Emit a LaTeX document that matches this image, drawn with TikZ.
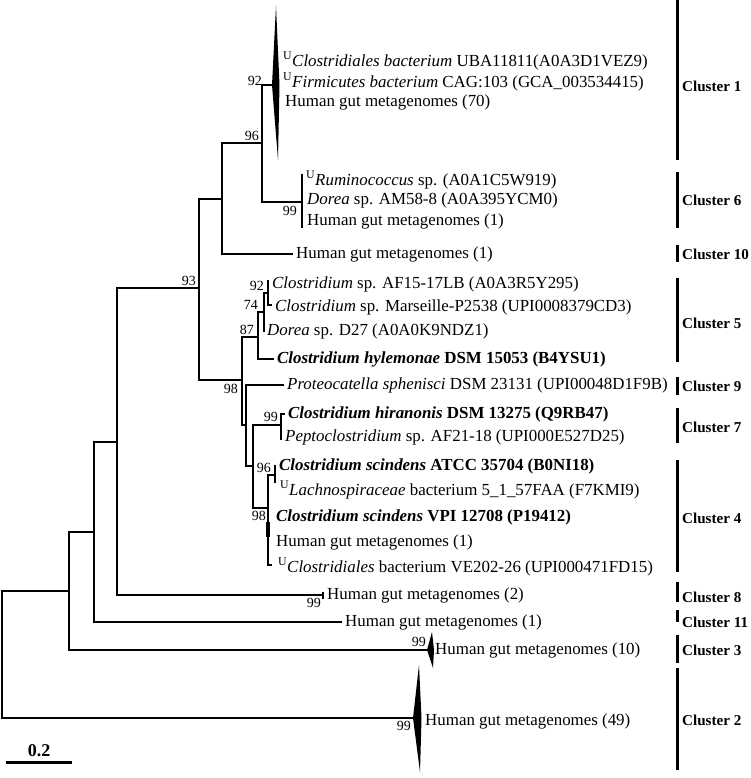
\documentclass[tikz,border=0pt]{standalone}
\usepackage{fontspec}
\setmainfont{Liberation Serif}
\newcommand{\leaffont}{\fontsize{16.9}{18}\selectfont}
\newcommand{\bsfont}{\fontsize{14}{15}\selectfont}
\newcommand{\clfont}{\fontsize{15.1}{16}\selectfont\bfseries}
\newcommand{\Usup}{\textsuperscript{U}}
\begin{document}
\begin{tikzpicture}[x=1pt,y=-1pt,
  br/.style={line width=2.8pt},
  wedge/.style={fill=black},
  leaf/.style={anchor=west, inner xsep=3pt, inner ysep=0pt, font=\leaffont},
  bs/.style={font=\bsfont, inner sep=1pt},
  clbar/.style={line width=3pt},
  cl/.style={anchor=west, font=\clfont, inner sep=0pt}]
\useasboundingbox (0,0) rectangle (750,778);

% internal nodes
\coordinate (r) at (2,654);
\coordinate (n69) at (69,591);
\coordinate (n94) at (94,532);
\coordinate (n117) at (117,442);
\coordinate (n199) at (199,288);
\coordinate (n222) at (222,199);
\coordinate (n262) at (262,143);
\coordinate (n302) at (302,202);
\coordinate (n242) at (242,380);
\coordinate (n258) at (258,337);
\coordinate (n264) at (264,312);
\coordinate (n268) at (268,293);
\coordinate (n246) at (246,425);
\coordinate (n253) at (253,466);
\coordinate (n281) at (281,425);
\coordinate (n268b) at (268,508);
\coordinate (n275) at (275,475);
% wedge apices
\coordinate (w1) at (272,85);
\coordinate (w3) at (427,650);
\coordinate (w2) at (413,718);
% auxiliary tips
\coordinate (c6a) at (302,174);
\coordinate (c6b) at (302,228);
\coordinate (d27) at (264,332);
\coordinate (c5a) at (268,280);
\coordinate (c5b) at (272,305);
\coordinate (c7b) at (281,440);
\coordinate (c96b) at (275,483);
\coordinate (c4b) at (272,565);
\coordinate (c4t1) at (268,522);
\coordinate (c4t2) at (268,537);

% leaves
\node[leaf] (l1a) at (280,61) {\Usup\textit{Clostridiales bacterium} UBA11811(A0A3D1VEZ9)};
\node[leaf] (l1b) at (280,82) {\Usup\textit{Firmicutes bacterium} CAG:103 (GCA\_003534415)};
\node[leaf] (l1c) at (282,102) {Human gut metagenomes (70)};
\node[leaf] (l6a) at (303,180) {\Usup\textit{Ruminococcus} sp. (A0A1C5W919)};
\node[leaf] (l6b) at (304,200) {\textit{Dorea} sp. AM58-8 (A0A395YCM0)};
\node[leaf] (l6c) at (304,221) {Human gut metagenomes (1)};
\node[leaf] (l10) at (293,254) {Human gut metagenomes (1)};
\node[leaf] (l5a) at (269,284) {\textit{Clostridium} sp. AF15-17LB (A0A3R5Y295)};
\node[leaf] (l5b) at (272,307) {\textit{Clostridium} sp. Marseille-P2538 (UPI0008379CD3)};
\node[leaf] (l5c) at (264,331) {\textit{Dorea} sp. D27 (A0A0K9NDZ1)};
\node[leaf] (l5d) at (274,359) {\textbf{\textit{Clostridium hylemonae} DSM 15053 (B4YSU1)}};
\node[leaf] (l9) at (284,385) {\textit{Proteocatella sphenisci} DSM 23131 (UPI00048D1F9B)};
\node[leaf] (l7a) at (285,414) {\textbf{\textit{Clostridium hiranonis} DSM 13275 (Q9RB47)}};
\node[leaf] (l7b) at (282,437) {\textit{Peptoclostridium} sp. AF21-18 (UPI000E527D25)};
\node[leaf] (l4a) at (276,466) {\textbf{\textit{Clostridium scindens} ATCC 35704 (B0NI18)}};
\node[leaf] (l4b) at (277,490) {\Usup\textit{Lachnospiraceae} bacterium 5\_1\_57FAA (F7KMI9)};
\node[leaf] (l4c) at (273,517) {\textbf{\textit{Clostridium scindens} VPI 12708 (P19412)}};
\node[leaf] (l4d) at (273,542) {Human gut metagenomes (1)};
\node[leaf] (l4e) at (275,567) {\Usup\textit{Clostridiales} bacterium VE202-26 (UPI000471FD15)};
\node[leaf, inner xsep=4pt] (l8) at (323,595) {Human gut metagenomes (2)};
\node[leaf] (l11) at (342,622) {Human gut metagenomes (1)};
\node[leaf] (l3) at (432,650) {Human gut metagenomes (10)};
\node[leaf] (l2) at (422,721) {Human gut metagenomes (49)};

% branches
\draw[br] (r) |- (n69);
\draw[br] (r) |- (w2);
\draw[br] (n69) |- (n94);
\draw[br] (n69) |- (w3);
\draw[br] (n94) |- (n117);
\draw[br] (n94) |- (l11.west);
\draw[br] (n117) |- (n199);
\draw[br] (n117) |- (l8.west);
\draw[line width=2pt] ([yshift=3.5pt]l8.west) -- ([yshift=-3.5pt]l8.west);
\draw[br] (n199) |- (n222);
\draw[br] (n199) |- (n242);
\draw[br] (n222) |- (n262);
\draw[br] (n222) |- (l10.west);
\draw[br] (n262) |- (w1);
\draw[br] (n262) |- (n302);
\draw[br] (c6a) -- (c6b);
\draw[br] (n242) |- (n258);
\draw[br] (n242) |- (n246);
\draw[br] (n258) |- (n264);
\draw[br] (n258) |- (l5d.west);
\draw[br] (n264) |- (n268);
\draw[br] (n264) |- (d27);
\draw[br] (n268) |- (c5a);
\draw[br] (n268) |- (c5b);
\draw[br] (n246) |- (l9.west);
\draw[br] (n246) |- (n253);
\draw[br] (n253) |- (n281);
\draw[br] (n253) |- (n268b);
\draw[br] (n281) |- (l7a.west);
\draw[br] (n281) |- (c7b);
\draw[br] (n268b) |- (n275);
\draw[br] (n268b) |- (c4b);
\draw[line width=4.8pt] (c4t1) -- (c4t2);
\draw[br] (n275) |- (l4a.west);
\draw[br] (n275) |- (c96b);

% collapsed clusters
\fill[wedge] (w1) -- (276,6) -- (279.5,85) -- (278,160) -- cycle;
\fill[wedge] (w3) -- (432,632) -- (434,650) -- (433,668) -- cycle;
\fill[wedge] (w2) -- (419,665) -- (421.5,718) -- (420,772) -- cycle;

% bootstrap values
\node[bs, anchor=east] (b92a) at (263,81) {92};
\node[bs, anchor=south east] (b96a) at (260,142) {96};
\node[bs, anchor=north east] (b99a) at (298,205) {99};
\node[bs, anchor=south east] (b93) at (197,287) {93};
\node[bs, anchor=south east] (b92b) at (265,292) {92};
\node[bs, anchor=south east] (b74) at (259,311) {74};
\node[bs, anchor=south east] (b87) at (255,336) {87};
\node[bs, anchor=north east] (b98a) at (239,383) {98};
\node[bs, anchor=south east] (b99b) at (279,423) {99};
\node[bs, anchor=south east] (b96b) at (272,474) {96};
\node[bs, anchor=north east] (b98b) at (267,510) {98};
\node[bs, anchor=north east] (b99c) at (322,597) {99};
\node[bs, anchor=south east] (b99d) at (427,648) {99};
\node[bs, anchor=north east] (b99e) at (412,720) {99};

% cluster bars and labels
\draw[clbar] (677,0) -- (677,160);
\node[cl] (k1) at (682,86) {Cluster 1};
\draw[clbar] (677,172) -- (677,228);
\node[cl] (k6) at (682,200) {Cluster 6};
\draw[clbar] (677,245) -- (677,262);
\node[cl] (k10) at (682,254) {Cluster 10};
\draw[clbar] (677,278) -- (677,362);
\node[cl] (k5) at (682,323) {Cluster 5};
\draw[clbar] (677,377) -- (677,395);
\node[cl] (k9) at (682,386) {Cluster 9};
\draw[clbar] (677,408) -- (677,443);
\node[cl] (k7) at (682,427) {Cluster 7};
\draw[clbar] (677,460) -- (677,572);
\node[cl] (k4) at (682,518) {Cluster 4};
\draw[clbar] (677,582) -- (677,602);
\node[cl] (k8) at (682,597) {Cluster 8};
\draw[clbar] (677,610) -- (677,622);
\node[cl] (k11) at (682,622) {Cluster 11};
\draw[clbar] (677,635) -- (677,663);
\node[cl] (k3) at (682,650) {Cluster 3};
\draw[clbar] (677,668) -- (677,770);
\node[cl] (k2) at (682,720) {Cluster 2};

% scale bar
\coordinate (s1) at (6,762);
\coordinate (s2) at (72,762);
\draw[line width=3pt] (s1) -- (s2);
\node[font=\fontsize{18}{20}\selectfont\bfseries, anchor=south, inner sep=0pt] (sc) at (39,757) {0.2};
\end{tikzpicture}
\end{document}
